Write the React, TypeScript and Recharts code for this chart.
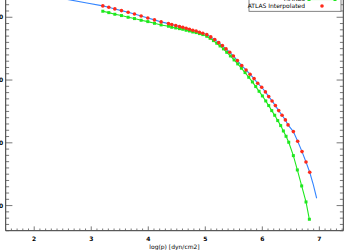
import React from 'react';
import { LineChart, Line, XAxis, YAxis } from 'recharts';

// log(p) and height values
const RED_LOGP = [
  3.203, 3.308, 3.414, 3.53, 3.647, 3.758, 3.875, 3.992, 4.109, 4.225, 4.354, 4.412, 4.482,
  4.547, 4.605, 4.664, 4.722, 4.78, 4.839, 4.897, 4.956, 5.026, 5.096, 5.166, 5.236, 5.3,
  5.364, 5.429, 5.493, 5.563, 5.639, 5.715, 5.785, 5.855, 5.919, 5.989, 6.054, 6.112, 6.171,
  6.229, 6.287, 6.346, 6.404, 6.451, 6.544, 6.62, 6.696, 6.766, 6.831,
];
const RED_H = [
  181, 159, 133, 106, 80, 53, 21, -11, -42, -74, -101, -117, -133, -149, -159, -175, -191,
  -207, -218, -239, -255, -276, -313, -356, -404, -451, -504, -558, -616, -690, -770, -839,
  -908, -977, -1051, -1115, -1189, -1264, -1333, -1407, -1487, -1561, -1635, -1715, -1821,
  -1975, -2140, -2305, -2469,
];

const GREEN_LOGP = [
  3.203, 3.308, 3.414, 3.53, 3.647, 3.758, 3.875, 3.992, 4.109, 4.225, 4.354, 4.412, 4.482,
  4.547, 4.605, 4.664, 4.722, 4.78, 4.839, 4.897, 4.956, 5.026, 5.084, 5.143, 5.201, 5.259,
  5.318, 5.376, 5.44, 5.505, 5.569, 5.633, 5.697, 5.762, 5.826, 5.884, 5.943, 6.001, 6.06,
  6.112, 6.165, 6.217, 6.27, 6.322, 6.369, 6.416, 6.463, 6.544, 6.614, 6.69, 6.766, 6.825,
];
const GREEN_H = [
  96, 74, 48, 27, 0, -21, -48, -69, -96, -122, -143, -159, -170, -181, -191, -207, -218,
  -234, -244, -260, -276, -303, -335, -372, -414, -457, -504, -558, -616, -680, -743, -812,
  -881, -956, -1030, -1104, -1179, -1253, -1333, -1407, -1487, -1561, -1646, -1726, -1811,
  -1896, -1991, -2204, -2432, -2687, -2942, -3218,
];

// blue line runs through the interpolated points and a bit beyond
const BLUE_HEAD_LOGP = [1.755, 2.193, 2.631, 2.923];
const BLUE_HEAD_H = [419, 345, 276, 228];
const BLUE_TAIL_LOGP = [6.895, 6.953];
const BLUE_TAIL_H = [-2671, -2883];

const X_MAJOR = [2, 3, 4, 5, 6, 7];
const Y_MAJOR = [0, -1000, -2000, -3000];
const X_DOMAIN = [1.5, 7.42];
const Y_DOMAIN = [-3400, 600];

const toRows = (xs: number[], ys: number[]) => xs.map((x, i) => ({ x, v: ys[i] }));
const redData = toRows(RED_LOGP, RED_H);
const greenData = toRows(GREEN_LOGP, GREEN_H);
const blueData = [
  ...toRows(BLUE_HEAD_LOGP, BLUE_HEAD_H),
  ...redData,
  ...toRows(BLUE_TAIL_LOGP, BLUE_TAIL_H),
];

// minor ticks
const xTicks: number[] = [];
for (let i = 15; i <= 74; i++) xTicks.push(i / 10);
const yTicks: number[] = [];
for (let i = -34; i <= 6; i++) yTicks.push(i * 100);

// chart is shifted up/left so the frame is cropped like the reference
const SHIFT_X = 40;
const SHIFT_Y = 30;
const W = 386;
const H = 280;
const LEFT = 45.7;
const RIGHT = 383.3;
const TOP = 9.6;
const BOTTOM = 260.7;

const TICK = '#555';
const FONT = 'DejaVu Sans, sans-serif';
const GREEN = '#1ee81e';
const RED = '#ff2a1a';
const BLUE = '#3385ff';

const isMajor = (v: number, list: number[]) => list.some((m) => Math.abs(m - v) < 1e-6);

const XTick = (props: any) => {
  const { x, payload } = props;
  const major = isMajor(payload.value, X_MAJOR);
  return (
    <g>
      <line x1={x} x2={x} y1={BOTTOM} y2={BOTTOM - (major ? 4.3 : 2.2)} stroke={TICK} strokeWidth={0.8} />
      {major && (
        <text x={x} y={BOTTOM + 10.5} textAnchor="middle" fontSize={6} fontFamily={FONT} fontWeight="bold" fill="#000">
          {payload.value}
        </text>
      )}
    </g>
  );
};

const YTickLeft = (props: any) => {
  const { y, payload } = props;
  const major = isMajor(payload.value, Y_MAJOR);
  return (
    <g>
      <line x1={LEFT} x2={LEFT + (major ? 6.7 : 3.4)} y1={y} y2={y} stroke={TICK} strokeWidth={0.8} />
      {major && (
        <text x={LEFT - 2.4} y={y + 2.2} textAnchor="end" fontSize={6} fontFamily={FONT} fontWeight="bold" fill="#000">
          {payload.value}
        </text>
      )}
    </g>
  );
};

const YTickRight = (props: any) => {
  const { y, payload } = props;
  const major = isMajor(payload.value, Y_MAJOR);
  return (
    <line x1={RIGHT} x2={RIGHT - (major ? 6.7 : 3.4)} y1={y} y2={y} stroke={TICK} strokeWidth={0.8} />
  );
};

const GreenDot = (props: any) => {
  const { cx, cy, index } = props;
  if (cx == null || cy == null) return null;
  return <rect key={index} x={cx - 1.5} y={cy - 1.5} width={3} height={3} fill={GREEN} />;
};

const RedDot = (props: any) => {
  const { cx, cy, index } = props;
  if (cx == null || cy == null) return null;
  return <circle key={index} cx={cx} cy={cy} r={1.8} fill={RED} />;
};

const LegendBox = () => (
  <svg
    width={100}
    height={50}
    style={{ position: 'absolute', left: SHIFT_X + 245, top: SHIFT_Y - 30, overflow: 'visible' }}
  >
    <g transform="translate(-245, 30)">
      <rect x={249} y={-12} width={92} height={23.3} fill="#fff" stroke="#666" strokeWidth={0.8} />
      <text x={305} y={1.4} textAnchor="end" fontSize={6} fontFamily={FONT} fill="#000">MARCS</text>
      <line x1={309} x2={335} y1={-0.5} y2={-0.5} stroke={GREEN} strokeWidth={1.1} />
      <rect x={307.5} y={-2} width={3} height={3} fill={GREEN} />
      <rect x={333.5} y={-2} width={3} height={3} fill={GREEN} />
      <text x={305} y={8.3} textAnchor="end" fontSize={6} fontFamily={FONT} fill="#000">ATLAS Interpolated</text>
      <circle cx={322} cy={6} r={1.8} fill={RED} />
    </g>
  </svg>
);

const App = () => {
  return (
    <div style={{ position: 'absolute', left: -SHIFT_X, top: -SHIFT_Y, width: W, height: H }}>
      <LineChart width={W} height={H} margin={{ top: TOP, right: 0, bottom: 0, left: 0 }}>
        <XAxis
          type="number"
          dataKey="x"
          domain={X_DOMAIN}
          ticks={xTicks}
          interval={0}
          allowDataOverflow
          height={H - BOTTOM}
          tickLine={false}
          axisLine={{ stroke: '#333' }}
          tick={XTick}
          label={{ value: 'log(p) [dyn/cm2]', position: 'insideBottom', offset: 1, fontSize: 6, fontFamily: FONT, fill: '#000' }}
        />
        <YAxis
          yAxisId="left"
          type="number"
          domain={Y_DOMAIN}
          ticks={yTicks}
          interval={0}
          allowDataOverflow
          width={LEFT}
          tickLine={false}
          axisLine={{ stroke: '#333' }}
          tick={YTickLeft}
        />
        <YAxis
          yAxisId="right"
          orientation="right"
          type="number"
          domain={Y_DOMAIN}
          ticks={yTicks}
          interval={0}
          allowDataOverflow
          width={W - RIGHT}
          tickLine={false}
          axisLine={{ stroke: '#333' }}
          tick={YTickRight}
        />
        <Line
          yAxisId="left"
          data={blueData}
          dataKey="v"
          type="linear"
          stroke={BLUE}
          strokeWidth={1.1}
          dot={false}
          isAnimationActive={false}
        />
        <Line
          yAxisId="left"
          data={greenData}
          dataKey="v"
          type="linear"
          stroke={GREEN}
          strokeWidth={1.1}
          dot={GreenDot}
          isAnimationActive={false}
        />
        <Line
          yAxisId="left"
          data={redData}
          dataKey="v"
          type="linear"
          stroke="none"
          dot={RedDot}
          isAnimationActive={false}
        />
      </LineChart>
      <LegendBox />
    </div>
  );
};

export default App;
